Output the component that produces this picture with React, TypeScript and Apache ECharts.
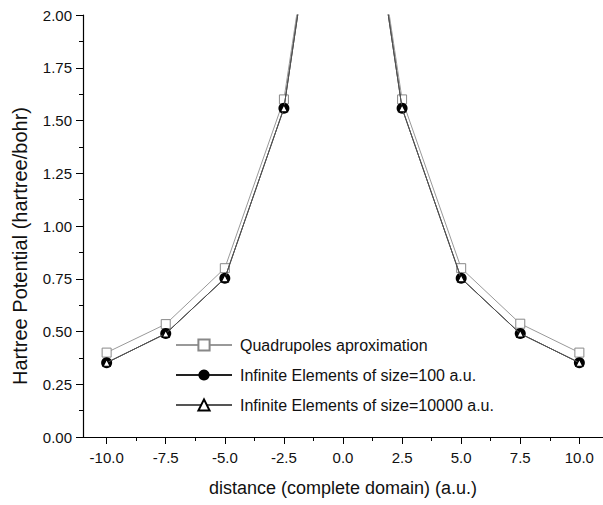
import React, { useEffect, useRef } from "react";
import * as echarts from "echarts";

const xValues = [-10, -7.5, -5, -2.5, 0, 2.5, 5, 7.5, 10];
const quadrupoles = [0.4, 0.535, 0.8, 1.6, 3.45, 1.6, 0.8, 0.537, 0.4];
const infinite100 = [0.352, 0.49, 0.752, 1.558, 3.45, 1.558, 0.752, 0.49, 0.352];
const infinite10000 = [0.352, 0.49, 0.752, 1.558, 3.45, 1.558, 0.752, 0.49, 0.352];
const xMajorTicks = [-10, -7.5, -5, -2.5, 0, 2.5, 5, 7.5, 10];
const xMinorTicks = [-8.75, -6.25, -3.75, -1.25, 1.25, 3.75, 6.25, 8.75];
const seriesNames = [
  "Quadrupoles aproximation",
  "Infinite Elements of size=100 a.u.",
  "Infinite Elements of size=10000 a.u.",
];
const xAxisName = "distance (complete domain) (a.u.)";
const yAxisName = "Hartree Potential (hartree/bohr)";

const pairs = (ys: number[]) => xValues.map((x, i) => [x, ys[i]]);

export default function App() {
  const ref = useRef<HTMLDivElement>(null);
  useEffect(() => {
    if (!ref.current) return;
    const chart = echarts.init(ref.current, null, { renderer: "svg" });
    const font = "Liberation Sans, Arial, sans-serif";
    chart.setOption({
      animation: false,
      backgroundColor: "#fff",
      textStyle: { fontFamily: font },
      grid: { left: 83, top: 15, width: 521, height: 422, containLabel: false },
      legend: {
        orient: "vertical",
        left: 175,
        top: 337,
        padding: 0,
        itemWidth: 56,
        itemHeight: 14,
        itemGap: 14,
        textStyle: { fontSize: 16, color: "#111", fontFamily: font, lineHeight: 14, padding: [0, 0, 0, 3] },
        data: seriesNames,
      },
      xAxis: [
        {
          type: "value",
          min: -11,
          max: 11,
          position: "bottom",
          axisLine: { show: true, onZero: false, lineStyle: { color: "#000", width: 1.2 } },
          axisTick: { show: true, length: 7, customValues: xMajorTicks, lineStyle: { color: "#000", width: 1 } },
          axisLabel: {
            customValues: xMajorTicks,
            margin: 13,
            fontSize: 15,
            color: "#111",
            fontFamily: font,
            formatter: (v: number) => v.toFixed(1),
          },
          splitLine: { show: false },
          name: xAxisName,
          nameLocation: "middle",
          nameGap: 42,
          nameTextStyle: { fontSize: 18, color: "#111", fontFamily: font },
        },
        {
          type: "value",
          min: -11,
          max: 11,
          position: "bottom",
          offset: 0,
          axisLine: { show: false, onZero: false },
          axisTick: { show: true, length: 4, customValues: xMinorTicks, lineStyle: { color: "#000", width: 1 } },
          axisLabel: { show: false },
          splitLine: { show: false },
        },
      ],
      yAxis: {
        type: "value",
        min: 0,
        max: 2,
        interval: 0.25,
        axisLine: { show: true, onZero: false, lineStyle: { color: "#000", width: 1.2 } },
        axisTick: { show: true, length: 7, lineStyle: { color: "#000", width: 1 } },
        minorTick: { show: true, splitNumber: 2, length: 4, lineStyle: { color: "#000", width: 1 } },
        axisLabel: {
          margin: 11,
          fontSize: 15,
          color: "#111",
          fontFamily: font,
          formatter: (v: number) => v.toFixed(2),
        },
        splitLine: { show: false },
      },
      graphic: [
        {
          type: "text",
          x: 20,
          y: 246,
          rotation: Math.PI / 2,
          style: {
            text: yAxisName,
            font: `20px ${font}`,
            fill: "#111",
            textAlign: "center",
            textVerticalAlign: "middle",
          },
        },
      ],
      series: [
        {
          name: seriesNames[0],
          type: "line",
          data: pairs(quadrupoles),
          clip: true,
          symbol: "rect",
          symbolSize: 9,
          itemStyle: { color: "#fff", borderColor: "#888", borderWidth: 1 },
          lineStyle: { color: "#999", width: 1 },
          z: 2,
        },
        {
          name: seriesNames[1],
          type: "line",
          data: pairs(infinite100),
          clip: true,
          symbol: "circle",
          symbolSize: 11,
          itemStyle: { color: "#000", borderColor: "#000", borderWidth: 0 },
          lineStyle: { color: "#222", width: 1 },
          z: 3,
        },
        {
          name: seriesNames[2],
          type: "line",
          data: pairs(infinite10000),
          clip: true,
          symbol: "triangle",
          symbolSize: 7,
          itemStyle: { color: "#fff", borderColor: "#000", borderWidth: 1.2 },
          lineStyle: { color: "#555", width: 1 },
          z: 4,
        },
      ],
    });
    return () => chart.dispose();
  }, []);
  return (
    <div
      ref={ref}
      style={{ position: "fixed", left: 0, top: 0, width: 603, height: 505 }}
    />
  );
}
